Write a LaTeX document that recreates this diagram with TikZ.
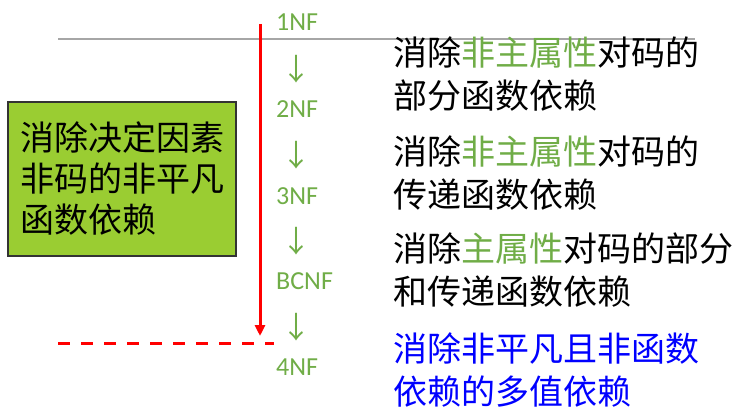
\documentclass[tikz,border=0pt]{standalone}
\usepackage{fontspec}
\setmainfont{Carlito}
\newfontfamily\cjk{Noto Sans CJK SC}
\usetikzlibrary{arrows.meta,positioning}
\definecolor{lvgreen}{HTML}{70AD47}
\definecolor{boxgreen}{HTML}{9ACD32}
\definecolor{rulegray}{HTML}{A6A6A6}
\tikzset{
  nfstep/.style  = {text=lvgreen, font=\fontsize{26}{30}\selectfont,
                    inner sep=0pt, anchor=west},
  nfarrow/.style = {text=lvgreen, font=\cjk\fontsize{30}{34}\selectfont,
                    inner sep=0pt},
  note/.style    = {font=\cjk\fontsize{34}{43}\selectfont, inner sep=0pt,
                    anchor=west, align=left},
  goalbox/.style = {draw=black!80, line width=1.5pt, fill=boxgreen,
                    minimum width=228pt, minimum height=154pt,
                    inner xsep=12pt, text width=204pt, align=left,
                    font=\cjk\fontsize{34}{41}\selectfont},
  redsig/.style  = {red, line width=3pt, -{Triangle[length=11pt,width=10pt]}},
}
\newcommand{\hl}[1]{\textcolor{lvgreen}{#1}}

\begin{document}
\begin{tikzpicture}[x=1pt,y=-1pt]
\useasboundingbox (0,0) rectangle (738,411);
% grey rule and left box
\coordinate (ruleL) at (58,39);
\coordinate (ruleR) at (695,39);
\draw[rulegray, line width=2pt] (ruleL) -- (ruleR);
\node[goalbox] (goal) at (122,179) {消除决定因素\\非码的非平凡\\函数依赖};
% normal forms
\node[nfstep] (nf1) at (276,22) {1NF};
\node[nfarrow] (a1) at (296,69) {↓};
\node[nfstep] (nf2) at (276,109) {2NF};
\node[nfarrow] (a2) at (296,155) {↓};
\node[nfstep] (nf3) at (276,196) {3NF};
\node[nfarrow] (a3) at (296,241) {↓};
\node[nfstep] (bc) at (276,281) {BCNF};
\node[nfarrow] (a4) at (296,327) {↓};
\node[nfstep] (nf4) at (276,367) {4NF};
% what each step removes
\node[note] (t1) at (393,74) {消除\hl{非主属性}对码的\\部分函数依赖};
\node[note] (t2) at (393,173) {消除\hl{非主属性}对码的\\传递函数依赖};
\node[note] (t3) at (393,270) {消除\hl{主属性}对码的部分\\和传递函数依赖};
\node[note, text=blue] (t4) at (393,370) {消除非平凡且非函数\\依赖的多值依赖};
% red arrow and dashed limit
\coordinate (redtop) at (260,24);
\coordinate (redbot) at (260,336);
\draw[redsig] (redtop) -- (redbot);
\coordinate (dashL) at (58,343);
\coordinate (dashR) at (274,343);
\draw[red, line width=3pt, dash pattern=on 12pt off 11pt] (dashL) -- (dashR);
\end{tikzpicture}
\end{document}
